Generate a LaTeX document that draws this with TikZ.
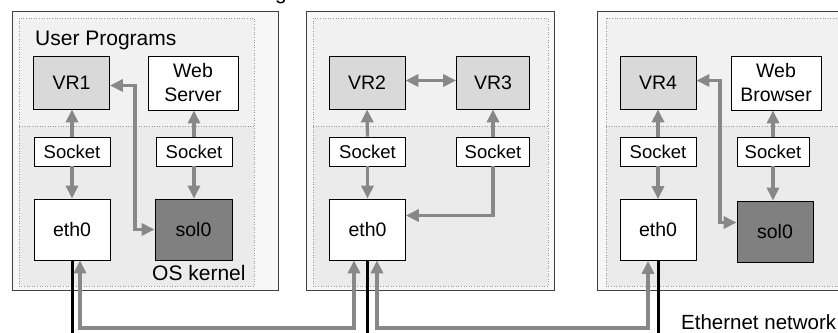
\documentclass[tikz,border=0pt]{standalone}
\usepackage{fontspec}
\setmainfont{Liberation Sans}
\usetikzlibrary{arrows.meta}
\definecolor{hostedge}{HTML}{404040}
\definecolor{hostfill}{HTML}{F7F7F7}
\definecolor{userfill}{HTML}{F1F1F1}
\definecolor{kernfill}{HTML}{EBEBEB}
\definecolor{zonegray}{HTML}{9A9A9A}
\definecolor{vrgray}{HTML}{D9D9D9}
\definecolor{solgray}{HTML}{808080}
\definecolor{linkgray}{HTML}{888888}
\begin{document}
\begin{tikzpicture}[x=1pt,y=-1pt,
  >={Triangle[width=12pt,length=13pt]},
  host/.style={draw=hostedge,fill=hostfill,line width=1pt},
  zoneedge/.style={draw=zonegray,line width=0.6pt,dotted},
  lbl/.style={inner sep=0pt,font=\fontsize{21}{25}\selectfont},
  blk/.style={draw=black,line width=0.8pt,inner sep=0pt,align=center,
    font=\fontsize{19.5}{24}\selectfont},
  vr/.style={blk,fill=vrgray,minimum width=76pt,minimum height=53pt},
  app/.style={blk,fill=white,minimum width=90pt,minimum height=54pt},
  sock/.style={blk,fill=white,minimum width=76pt,minimum height=29pt,
    font=\fontsize{18.5}{22}\selectfont},
  nic/.style={blk,fill=white,minimum width=76pt,minimum height=61pt},
  tun/.style={blk,fill=solgray,minimum width=77pt,minimum height=61pt},
  link/.style={draw=linkgray,line width=3.3pt},
  wire/.style={draw=black,line width=3pt}]
\useasboundingbox (0,0) rectangle (838,332);

% host enclosures with user / kernel zones
\draw[host] (12,11) rectangle (278,290);
\fill[userfill] (19,18) rectangle (254,126);
\fill[kernfill] (19,126) rectangle (254,286);
\draw[zoneedge] (19,18) rectangle (254,286);
\draw[zoneedge] (19,126) -- (254,126);

\draw[host] (306,11) rectangle (554,290);
\fill[userfill] (313,18) rectangle (548,126);
\fill[kernfill] (313,126) rectangle (548,286);
\draw[zoneedge] (313,18) rectangle (548,286);
\draw[zoneedge] (313,126) -- (548,126);

\draw[host] (597,11) rectangle (870,290);
\fill[userfill] (606,18) rectangle (860,126);
\fill[kernfill] (606,126) rectangle (860,286);
\draw[zoneedge] (606,18) rectangle (860,286);
\draw[zoneedge] (606,126) -- (860,126);

% free labels
\node[lbl,anchor=base] (capg) at (281,-1) {g};
\node[lbl,anchor=base west] (userlbl) at (35,45) {User Programs};
\node[lbl,anchor=base west] (kernlbl) at (152,280) {OS kernel};
\node[lbl,anchor=base west,font=\fontsize{20.5}{24}\selectfont] (netlbl) at (681,329) {Ethernet network};

% host 1
\node[vr]   (vr1)  at (71.5,82.5) {VR1};
\node[app]  (web1) at (193,83) {Web\\Server};
\node[sock] (s1a)  at (72,151.5) {Socket};
\node[sock] (s1b)  at (194,151.5) {Socket};
\node[nic]  (eth1) at (72,229.5) {eth0};
\node[tun]  (sol1) at (193.5,229.5) {sol0};

% host 2
\node[vr]   (vr2)  at (367,82.5) {VR2};
\node[vr,minimum width=73pt] (vr3) at (493,82.5) {VR3};
\node[sock] (s2a)  at (367.5,151.5) {Socket};
\node[sock,minimum width=73pt] (s2b) at (493,151.5) {Socket};
\node[nic]  (eth2) at (367.5,229.5) {eth0};

% host 3
\node[vr]   (vr4)  at (658,82.5) {VR4};
\node[app]  (web3) at (776,83) {Web\\Browser};
\node[sock] (s3a)  at (658,151.5) {Socket};
\node[sock,minimum width=72pt] (s3b) at (773,151.5) {Socket};
\node[nic]  (eth3) at (658,230) {eth0};
\node[tun,minimum width=76pt] (sol3) at (775,231.5) {sol0};

% host 1 connectors
\draw[link,->] (s1a.north) -- (vr1.south -| s1a.north);
\draw[link,->] (s1a.south) -- (eth1.north);
\draw[link,->] (s1b.north) -- (web1.south -| s1b.north);
\draw[link,->] (s1b.south) -- (sol1.north -| s1b.south);
\coordinate (k1) at (135,0);
\draw[link,<->] ([yshift=-3pt]vr1.east) -| (k1 |- sol1.west) -- (sol1.west);

% host 2 connectors
\draw[link,<->] ([yshift=2pt]vr2.east) -- ([yshift=2pt]vr3.west);
\draw[link,->] (s2a.north) -- (vr2.south);
\draw[link,->] (s2a.south) -- (eth2.north);
\draw[link,->] (s2b.north) -- (vr3.south);
\draw[link,->] (s2b.south) |- ([yshift=14pt]eth2.east);

% host 3 connectors
\draw[link,->] (s3a.north) -- (vr4.south);
\draw[link,->] (s3a.south) -- (eth3.north);
\draw[link,->] (s3b.north) -- (web3.south -| s3b.north);
\draw[link,->] (s3b.south) -- (sol3.north -| s3b.south);
\coordinate (k3) at (720,0);
\coordinate (sol3in) at ([yshift=9pt]sol3.west);
\draw[link,<->] ([yshift=2pt]vr4.east) -| (k3 |- sol3in) -- (sol3in);

% Ethernet wires
\coordinate (bus) at (0,328);
\coordinate (floor) at (0,345);
\draw[wire] (eth1.south) -- (eth1.south |- floor);
\draw[wire] (eth2.south) -- (eth2.south |- floor);
\draw[wire] (eth3.south) -- (eth3.south |- floor);

% tunnels over the network
\draw[link,<->] ([xshift=-13.5pt]eth2.south) -- ([xshift=-13.5pt]eth2.south |- bus)
  -| ([xshift=8pt]eth1.south);
\draw[link,<->] ([xshift=9.5pt]eth2.south) -- ([xshift=9.5pt]eth2.south |- bus)
  -| ([xshift=-10pt]eth3.south);
\end{tikzpicture}
\end{document}
